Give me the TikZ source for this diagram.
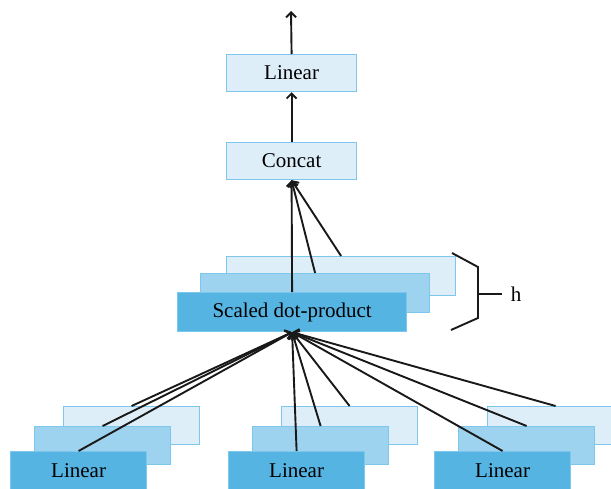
\documentclass[tikz,border=0pt]{standalone}
\usepackage{fontspec}
\setmainfont{Liberation Serif}
\usetikzlibrary{arrows.meta}
\definecolor{bfront}{RGB}{86,180,227}
\definecolor{bmid}{RGB}{157,211,238}
\definecolor{bback}{RGB}{221,238,249}
\definecolor{bedge}{RGB}{125,198,236}
\tikzset{
  blk/.style={draw=bedge, line width=1.2pt, anchor=north west, inner sep=0pt,
    font=\fontsize{21}{24}\selectfont},
  frontbox/.style={blk, fill=bfront},
  midbox/.style={blk, fill=bmid},
  backbox/.style={blk, fill=bback},
  wide/.style={minimum width=229pt, minimum height=39pt},
  small/.style={minimum width=136pt, minimum height=38pt},
  topbox/.style={minimum width=130pt, minimum height=37pt},
  conn/.style={line width=1.9pt, draw=black!90, -{Straight Barb[length=5pt,width=10pt]}},
  plain/.style={line width=1.9pt, draw=black!90}
}
\begin{document}
\begin{tikzpicture}[x=1pt,y=-1pt]
\useasboundingbox (0,0) rectangle (611,488);
\clip (0,0) rectangle (611,488);
% top part
\node[backbox, topbox] (ln) at (226,54) {Linear};
\node[backbox, topbox] (cc) at (226,142) {Concat};
\coordinate (out) at (291,11);
% scaled dot-product stack
\node[backbox, wide] (sb) at (226,256) {};
\node[midbox, wide] (sm) at (200,273) {};
\node[frontbox, wide] (sf) at (177,292) {Scaled dot-product};
% bottom linear stacks
\foreach \x/\n in {10/a,228/b,434/c}{
  \node[backbox, small] (\n3) at (\x+53,406) {};
  \node[midbox, small] (\n2) at (\x+24,426) {};
  \node[frontbox, small] (\n1) at (\x,451) {Linear};
}
% connectors
\draw[conn] (ln.north) -- (out);
\draw[conn] (cc.north) -- (ln.south);
\draw[conn] (sf.north) -- (cc.south);
\draw[conn] (sm.north) -- (cc.south);
\draw[conn] (sb.north) -- (cc.south);
\foreach \n in {a,b,c}{
  \foreach \k in {1,2,3}{
    \draw[conn] (\n\k.north) -- (sf.south);
  }
}
% brace
\coordinate (br1) at (452,253);
\coordinate (br2) at (478,267);
\coordinate (br3) at (478,318);
\coordinate (br4) at (451,330);
\coordinate (brm) at (478,294);
\node[font=\fontsize{21}{24}\selectfont, inner sep=0pt] (h) at (516,294) {h};
\draw[plain] (br1) -- (br2) -- (br3) -- (br4);
\draw[plain] (brm) -- (h.west -| 502,0);
\end{tikzpicture}
\end{document}
